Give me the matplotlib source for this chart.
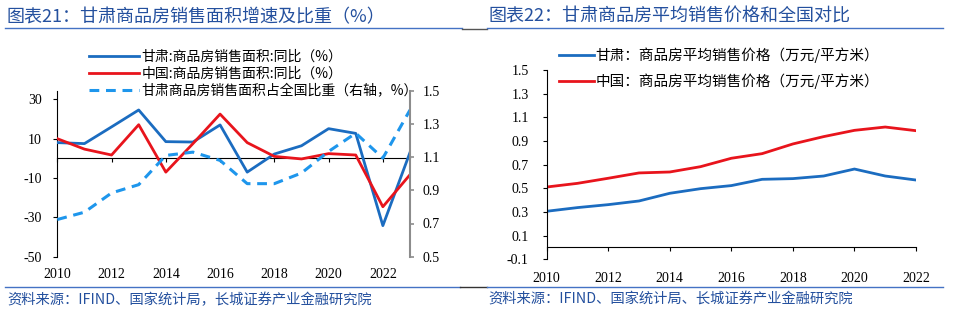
import matplotlib
matplotlib.use("Agg")
import matplotlib.pyplot as plt
from matplotlib.lines import Line2D

plt.rcParams['font.family'] = ['Liberation Serif', 'Noto Sans CJK SC']
CJK = ['Noto Sans CJK SC', 'DejaVu Sans']

# ---------------- data ----------------
years_l = list(range(2010, 2024))
gansu_yoy = [8.0, 7.5, 16.0, 24.6, 8.5, 8.3, 17.0, -7.0, 2.2, 6.4, 15.1, 12.7, -34.2, 3.0]
china_yoy = [10.0, 4.7, 1.7, 17.1, -7.0, 7.5, 22.5, 8.0, 1.0, -0.3, 2.4, 1.7, -24.6, -8.3]
gansu_share = [0.724, 0.768, 0.884, 0.934, 1.11, 1.13, 1.08, 0.94, 0.94, 1.004, 1.134, 1.244, 1.094, 1.384]

years_r = list(range(2010, 2023))
gansu_price = [0.306, 0.337, 0.362, 0.393, 0.458, 0.497, 0.523, 0.576, 0.582, 0.604, 0.663, 0.604, 0.570]
china_price = [0.511, 0.542, 0.585, 0.630, 0.638, 0.683, 0.754, 0.793, 0.875, 0.937, 0.990, 1.018, 0.987]

xticks = [2010, 2012, 2014, 2016, 2018, 2020, 2022]
yticks_l = [-50, -30, -10, 10, 30]
yticks_l2 = [0.5, 0.7, 0.9, 1.1, 1.3, 1.5]
yticks_r = [-0.1, 0.1, 0.3, 0.5, 0.7, 0.9, 1.1, 1.3, 1.5]

titles = ["图表21：甘肃商品房销售面积增速及比重（%）", "图表22：甘肃商品房平均销售价格和全国对比"]
sources = ["资料来源：IFIND、国家统计局，长城证券产业金融研究院", "资料来源：IFIND、国家统计局、长城证券产业金融研究院"]
labels_l = ["甘肃:商品房销售面积:同比（%）", "中国:商品房销售面积:同比（%）", "甘肃商品房销售面积占全国比重（右轴，%）"]
labels_r = ["甘肃：商品房平均销售价格（万元/平方米）", "中国：商品房平均销售价格（万元/平方米）"]

BLUE = '#1B6CC0'
RED = '#E8141C'
LBLUE = '#1E96EC'
TBLUE = '#24509E'

W, H = 957, 327
fig = plt.figure(figsize=(W / 100, H / 100), dpi=100)

def fx(x):
    return x / W

def fy(y):
    return 1 - y / H

# --------------- left chart ---------------
ax = fig.add_axes([fx(57.3), fy(256.7), fx(410 - 57.3), (256.7 - 90.7) / H])
ax.plot(years_l, gansu_yoy, color=BLUE, lw=2.0, zorder=3)
ax.plot(years_l, china_yoy, color=RED, lw=2.0, zorder=3)
ax.set_xlim(2010, 2023)
ax.set_ylim(-50, 34.4)
ax.set_yticks(yticks_l)
ax.set_yticklabels([str(v) for v in yticks_l])
ax.spines['top'].set_visible(False)
ax.spines['right'].set_visible(False)
ax.spines['bottom'].set_position(('data', 0))
ax.spines['bottom'].set_linewidth(0.8)
ax.spines['left'].set_linewidth(0.8)
ax.set_xticks(xticks)
ax.tick_params(axis='x', direction='out', length=3, width=0.8, labelbottom=False)
ax.tick_params(axis='y', direction='out', length=3, width=0.8, pad=8, labelsize=10)
sec = ax.secondary_xaxis('bottom')
sec.spines['bottom'].set_visible(False)
sec.set_xticks(xticks)
sec.set_xticklabels([str(v) for v in xticks])
sec.tick_params(length=0, pad=8, labelsize=10)

ax2 = ax.twinx()
ax2.plot(years_l, gansu_share, color=LBLUE, lw=2.2, ls=(0, (3.2, 2.2)), zorder=2)
ax2.set_ylim(0.5, 1.5)
ax2.set_yticks(yticks_l2)
ax2.set_yticklabels([f"{v:.1f}" for v in yticks_l2])
for s in ['top', 'left', 'bottom']:
    ax2.spines[s].set_visible(False)
ax2.spines['right'].set_color('#8C8C8C')
ax2.spines['right'].set_linewidth(1.5)
ax2.tick_params(axis='y', direction='out', length=3, width=1.2, color='#8C8C8C', pad=6, labelsize=10)

handles_l = [Line2D([], [], color=BLUE, lw=2.0),
             Line2D([], [], color=RED, lw=2.0),
             Line2D([], [], color=LBLUE, lw=2.2, ls=(0, (3.2, 2.2)))]
fig.legend(handles_l, labels_l, loc='upper left', bbox_to_anchor=(fx(89), fy(50)),
           frameon=False, prop={'family': CJK, 'size': 10}, handlelength=3.6,
           handletextpad=0.2, labelspacing=0.2, borderaxespad=0, borderpad=0)

# --------------- right chart ---------------
bx = fig.add_axes([fx(546.7), fy(259.3), fx(916 - 546.7), (259.3 - 70) / H])
bx.plot(years_r, gansu_price, color=BLUE, lw=2.0)
bx.plot(years_r, china_price, color=RED, lw=2.0)
bx.set_xlim(2010, 2022)
bx.set_ylim(-0.1, 1.5)
bx.set_yticks(yticks_r)
bx.set_yticklabels([f"{v:.1f}" for v in yticks_r])
bx.spines['top'].set_visible(False)
bx.spines['right'].set_visible(False)
bx.spines['bottom'].set_position(('data', 0))
bx.spines['bottom'].set_linewidth(0.8)
bx.spines['left'].set_linewidth(0.8)
bx.set_xticks(xticks)
bx.tick_params(axis='x', direction='out', length=3, width=0.8, labelbottom=False)
bx.tick_params(axis='y', direction='out', length=3, width=0.8, pad=10, labelsize=10)
sec2 = bx.secondary_xaxis('bottom')
sec2.spines['bottom'].set_visible(False)
sec2.set_xticks(xticks)
sec2.set_xticklabels([str(v) for v in xticks])
sec2.tick_params(length=0, pad=9, labelsize=10)

handles_r = [Line2D([], [], color=BLUE, lw=2.0), Line2D([], [], color=RED, lw=2.0)]
fig.legend(handles_r, labels_r, loc='upper left', bbox_to_anchor=(fx(559), fy(47)),
           frameon=False, prop={'family': CJK, 'size': 10.5}, handlelength=2.4,
           handletextpad=0.12, labelspacing=0.75, borderaxespad=0, borderpad=0)

# --------------- titles, rules, sources ---------------
fig.text(fx(7), fy(17), titles[0], family=CJK, fontsize=13, color=TBLUE,
         style='italic', va='center', ha='left')
fig.text(fx(488), fy(17), titles[1], family=CJK, fontsize=13, color=TBLUE,
         style='italic', va='center', ha='left')

for (x0, x1, y, c) in [(5, 462, 28.3, '#4472C4'), (462, 487, 28.8, '#555555'), (487, 943, 28.3, '#4472C4'),
                       (5, 460, 287.3, '#4472C4'), (460, 487, 287.3, '#333333'), (487, 943, 287.3, '#4472C4')]:
    fig.add_artist(Line2D([fx(x0), fx(x1)], [fy(y), fy(y)], color=c, lw=1.0, transform=fig.transFigure))

fig.text(fx(7), fy(300), sources[0], family=CJK, fontsize=10.3, color=TBLUE,
         style='italic', va='center', ha='left')
fig.text(fx(488), fy(300), sources[1], family=CJK, fontsize=10.3, color=TBLUE,
         style='italic', va='center', ha='left')

fig.savefig('out.png', dpi=100)
